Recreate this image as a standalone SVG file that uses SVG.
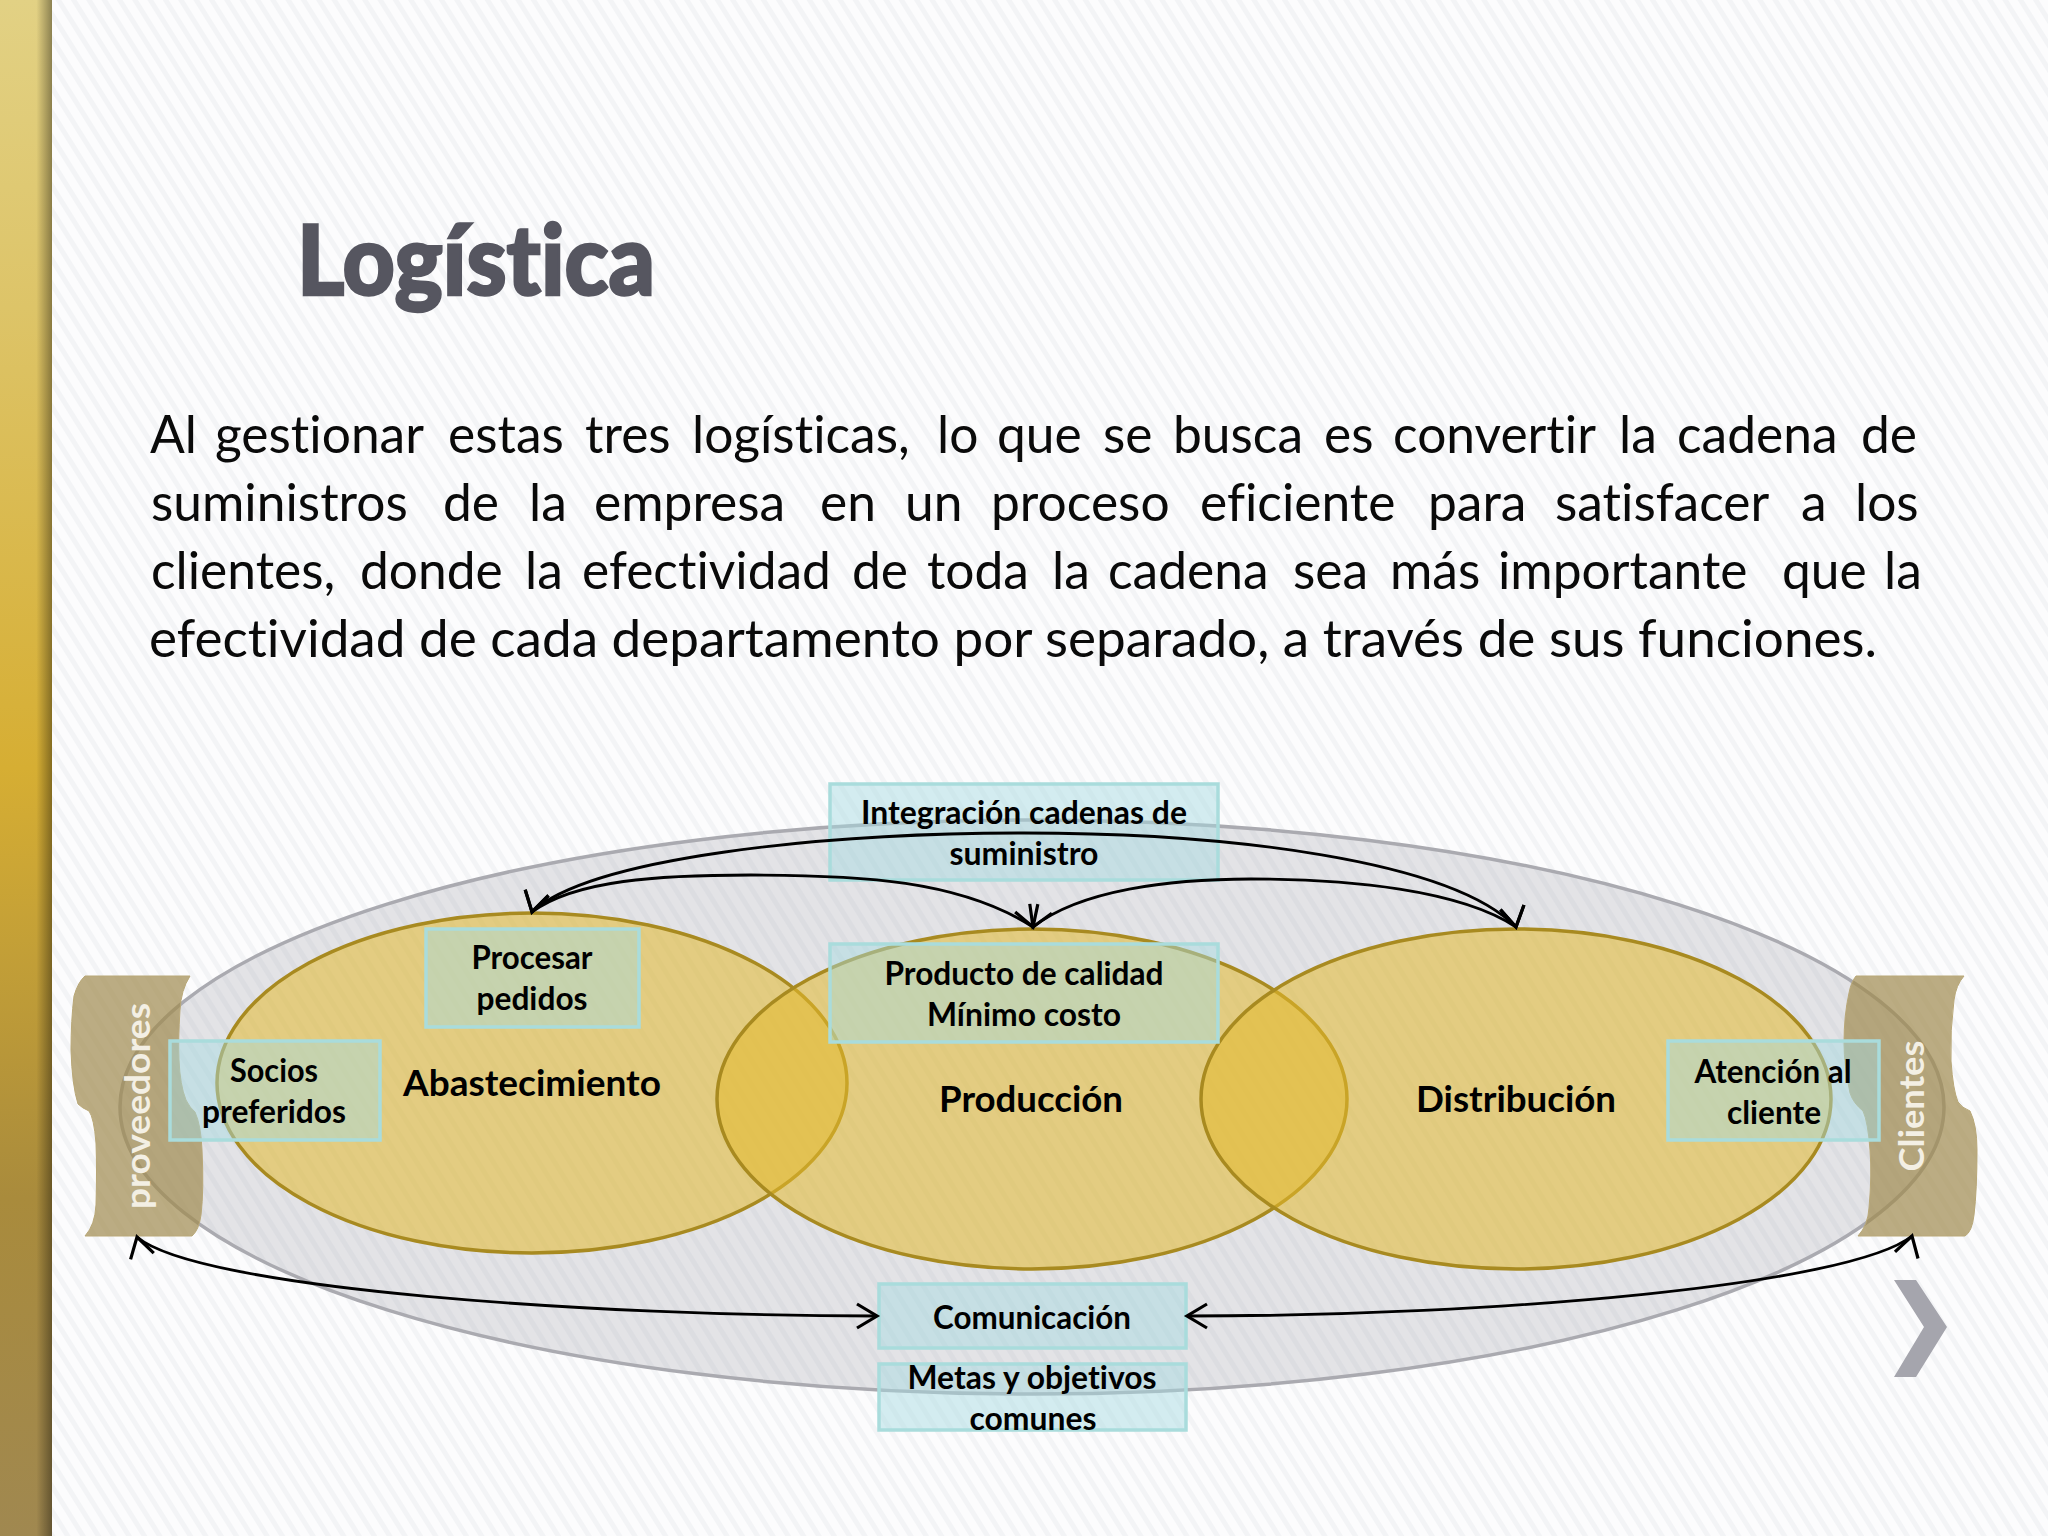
<svg xmlns="http://www.w3.org/2000/svg" width="2048" height="1536" viewBox="0 0 2048 1536">
<style>
text{font-family:"Lato","Open Sans","Liberation Sans",sans-serif;fill:#000;font-variant-ligatures:none}
.body{font-size:51.5px;font-weight:400;fill:#0a0a0a}
.lab{font-size:32px;font-weight:700;text-anchor:middle}
.big{font-size:37px;font-weight:700;text-anchor:middle}
.side{font-size:34px;font-weight:700;fill:#f3efe4;text-anchor:middle}
.box{fill:#a6dbe2;fill-opacity:.47;stroke:#a9dcdc;stroke-width:3.5}
.set{fill:#e3ba2e;fill-opacity:.55;stroke:#a88a20;stroke-width:3.5}
.scroll{fill:#a08a4e;fill-opacity:.7;stroke:#b9a878;stroke-width:1}
.conn{fill:none;stroke:#000;stroke-width:2.8}
.head{fill:none;stroke:#000;stroke-width:3.2;stroke-linejoin:miter}
</style>
<defs>
<pattern id="stripes" width="13" height="13" patternUnits="userSpaceOnUse" patternTransform="rotate(58)">
<rect width="13" height="13" fill="#fcfcfd"/><rect width="13" height="5" fill="#f3f4f6"/>
</pattern>
<linearGradient id="bar" x1="0" y1="0" x2="0" y2="1">
<stop offset="0" stop-color="#e2d184"/><stop offset=".2" stop-color="#ddc468"/><stop offset=".5" stop-color="#d6ae33"/><stop offset=".78" stop-color="#a98b3c"/><stop offset="1" stop-color="#a08850"/>
</linearGradient>
<linearGradient id="barShade" x1="0" y1="0" x2="1" y2="0">
<stop offset="0" stop-color="#000" stop-opacity="0"/><stop offset=".7" stop-color="#000" stop-opacity="0"/><stop offset="1" stop-color="#000" stop-opacity=".38"/>
</linearGradient>
<marker id="a104" viewBox="-24 -14 28 28" refX="0" refY="0" markerWidth="28" markerHeight="28" markerUnits="userSpaceOnUse" orient="104"><path class="head" d="M-20 -12L0 0L-20 12"/></marker>
<marker id="a79" viewBox="-24 -14 28 28" refX="0" refY="0" markerWidth="28" markerHeight="28" markerUnits="userSpaceOnUse" orient="79"><path class="head" d="M-20 -12L0 0L-20 12"/></marker>
<marker id="a71" viewBox="-24 -14 28 28" refX="0" refY="0" markerWidth="28" markerHeight="28" markerUnits="userSpaceOnUse" orient="71"><path class="head" d="M-20 -12L0 0L-20 12"/></marker>
<marker id="a113" viewBox="-24 -14 28 28" refX="0" refY="0" markerWidth="28" markerHeight="28" markerUnits="userSpaceOnUse" orient="113"><path class="head" d="M-20 -12L0 0L-20 12"/></marker>
<marker id="am105" viewBox="-24 -14 28 28" refX="0" refY="0" markerWidth="28" markerHeight="28" markerUnits="userSpaceOnUse" orient="-105"><path class="head" d="M-20 -12L0 0L-20 12"/></marker>
<marker id="am74" viewBox="-24 -14 28 28" refX="0" refY="0" markerWidth="28" markerHeight="28" markerUnits="userSpaceOnUse" orient="-74"><path class="head" d="M-20 -12L0 0L-20 12"/></marker>
<marker id="a0" viewBox="-24 -14 28 28" refX="0" refY="0" markerWidth="28" markerHeight="28" markerUnits="userSpaceOnUse" orient="0"><path class="head" d="M-20 -12L0 0L-20 12"/></marker>
<marker id="a180" viewBox="-24 -14 28 28" refX="0" refY="0" markerWidth="28" markerHeight="28" markerUnits="userSpaceOnUse" orient="180"><path class="head" d="M-20 -12L0 0L-20 12"/></marker>
</defs>
<rect id="background" width="2048" height="1536" fill="url(#stripes)"/>
<g id="side-bar"><rect width="52" height="1536" fill="url(#bar)"/><rect width="52" height="1536" fill="url(#barShade)"/></g>
<text id="title" x="297" y="295" textLength="358" lengthAdjust="spacingAndGlyphs" style="font-size:98px;font-weight:900;fill:#565660;stroke:#565660;stroke-width:2.5">Logística</text>
<g id="paragraph">
<text class="body" y="453"><tspan x="150">Al</tspan> <tspan x="215">gestionar</tspan> <tspan x="448">estas</tspan> <tspan x="585">tres</tspan> <tspan x="692">logísticas,</tspan> <tspan x="937">lo</tspan> <tspan x="997">que</tspan> <tspan x="1103">se</tspan> <tspan x="1173">busca</tspan> <tspan x="1324">es</tspan> <tspan x="1393">convertir</tspan> <tspan x="1619">la</tspan> <tspan x="1677">cadena</tspan> <tspan x="1861">de</tspan></text>
<text class="body" y="521"><tspan x="151">suministros</tspan> <tspan x="443">de</tspan> <tspan x="529">la</tspan> <tspan x="594">empresa</tspan> <tspan x="820">en</tspan> <tspan x="905">un</tspan> <tspan x="991">proceso</tspan> <tspan x="1200">eficiente</tspan> <tspan x="1428">para</tspan> <tspan x="1555">satisfacer</tspan> <tspan x="1801">a</tspan> <tspan x="1855">los</tspan></text>
<text class="body" y="589"><tspan x="151">clientes,</tspan> <tspan x="360">donde</tspan> <tspan x="525">la</tspan> <tspan x="582">efectividad</tspan> <tspan x="852">de</tspan> <tspan x="927">toda</tspan> <tspan x="1052">la</tspan> <tspan x="1108">cadena</tspan> <tspan x="1293">sea</tspan> <tspan x="1390">más</tspan> <tspan x="1498">importante</tspan> <tspan x="1782">que</tspan> <tspan x="1884">la</tspan></text>
<text class="body" x="149" y="657" textLength="1728" lengthAdjust="spacingAndGlyphs">efectividad de cada departamento por separado, a través de sus funciones.</text>
</g>
<g id="node-cadena"><ellipse cx="1032" cy="1107" rx="912" ry="287" fill="#a0a0ae" fill-opacity=".28" stroke="#aaaab0" stroke-width="3.5"/></g>
<g id="node-proveedores"><path class="scroll" d="M85 976L190 976Q181 990 180 1010Q178 1040 179 1060Q180 1085 186 1100Q190 1108 195 1112Q201 1125 202 1150Q204 1190 201 1215Q199 1230 192 1236L85 1236Q95 1225 96 1205Q97 1170 96 1143Q94 1118 89 1111Q82 1108 78 1104Q72 1085 71 1050Q71 1020 74 996Q78 982 85 976Z"/></g>
<g id="node-clientes"><path class="scroll" d="M1856 976L1964 976Q1956 985 1954 1000Q1950 1030 1951 1061Q1953 1090 1958 1102Q1962 1108 1970 1111Q1977 1125 1977 1150Q1977 1190 1974 1215Q1972 1232 1965 1236L1858 1236Q1868 1225 1869 1208Q1872 1175 1870 1150Q1868 1122 1863 1111Q1853 1103 1850 1093Q1844 1065 1844 1043Q1844 1015 1849 993Q1851 982 1856 976Z"/></g>
<g id="node-abastecimiento"><ellipse class="set" cx="532" cy="1083" rx="315" ry="170"/><text class="big" x="532" y="1096" textLength="258" lengthAdjust="spacingAndGlyphs">Abastecimiento</text></g>
<g id="node-produccion"><ellipse class="set" cx="1032" cy="1099" rx="315" ry="170"/><text class="big" x="1031" y="1112" textLength="184" lengthAdjust="spacingAndGlyphs">Producción</text></g>
<g id="node-distribucion"><ellipse class="set" cx="1516" cy="1099" rx="315" ry="170"/><text class="big" x="1516" y="1112" textLength="200" lengthAdjust="spacingAndGlyphs">Distribución</text></g>
<text class="side" transform="translate(150 1106) rotate(-90)" textLength="206" lengthAdjust="spacingAndGlyphs">proveedores</text>
<text class="side" transform="translate(1924 1106) rotate(-90)" textLength="131" lengthAdjust="spacingAndGlyphs">Clientes</text>
<g id="node-integracion"><rect class="box" x="830" y="784" width="388" height="96"/><text class="lab" x="1024" y="824" textLength="326" lengthAdjust="spacingAndGlyphs">Integración cadenas de</text><text class="lab" x="1024" y="865" textLength="149" lengthAdjust="spacingAndGlyphs">suministro</text></g>
<g id="node-procesar"><rect class="box" x="426" y="929" width="213" height="98"/><text class="lab" x="532" y="969" textLength="121" lengthAdjust="spacingAndGlyphs">Procesar</text><text class="lab" x="532" y="1010" textLength="111" lengthAdjust="spacingAndGlyphs">pedidos</text></g>
<g id="node-socios"><rect class="box" x="170" y="1041" width="210" height="99"/><text class="lab" x="274" y="1082" textLength="88" lengthAdjust="spacingAndGlyphs">Socios</text><text class="lab" x="274" y="1123" textLength="144" lengthAdjust="spacingAndGlyphs">preferidos</text></g>
<g id="node-producto"><rect class="box" x="830" y="944" width="388" height="98"/><text class="lab" x="1024" y="985" textLength="279" lengthAdjust="spacingAndGlyphs">Producto de calidad</text><text class="lab" x="1024" y="1026" textLength="194" lengthAdjust="spacingAndGlyphs">Mínimo costo</text></g>
<g id="node-atencion"><rect class="box" x="1668" y="1041" width="211" height="99"/><text class="lab" x="1773" y="1083" textLength="157" lengthAdjust="spacingAndGlyphs">Atención al</text><text class="lab" x="1774" y="1124" textLength="94" lengthAdjust="spacingAndGlyphs">cliente</text></g>
<g id="node-comunicacion"><rect class="box" x="879" y="1284" width="307" height="64"/><text class="lab" x="1032" y="1329" textLength="198" lengthAdjust="spacingAndGlyphs">Comunicación</text></g>
<g id="node-metas"><rect class="box" x="879" y="1364" width="307" height="66"/><text class="lab" x="1032" y="1389" textLength="249" lengthAdjust="spacingAndGlyphs">Metas y objetivos</text><text class="lab" x="1033" y="1430" textLength="127" lengthAdjust="spacingAndGlyphs">comunes</text></g>
<g id="connectors">
<path class="conn" marker-start="url(#a104)" marker-end="url(#a79)" d="M532 912C590 858 820 833 1024 833C1228 833 1450 860 1516 927"/>
<path class="conn" marker-start="url(#a104)" marker-end="url(#a71)" d="M532 912C575 880 660 875 751 875C860 875 960 880 1033 927"/>
<path class="conn" marker-start="url(#a113)" marker-end="url(#a79)" d="M1033 927C1080 890 1170 879 1251 879C1350 879 1460 890 1516 927"/>
<path class="conn" marker-start="url(#am105)" marker-end="url(#a0)" d="M137 1237C200 1290 600 1316 877 1316"/>
<path class="conn" marker-start="url(#a180)" marker-end="url(#am74)" d="M1187 1316C1500 1316 1850 1285 1912 1236"/>
</g>
<path id="next-chevron" d="M1894 1280L1916 1280L1947 1327L1916 1377L1894 1377L1924 1327Z" fill="#a5a5ad"/>
</svg>
